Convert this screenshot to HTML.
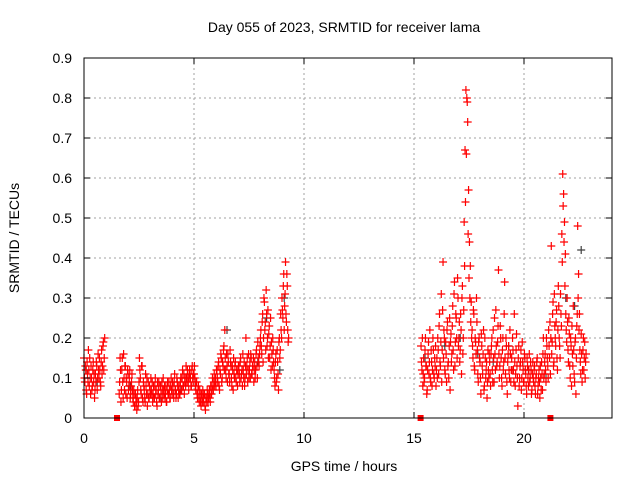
<!DOCTYPE html>
<html><head><meta charset="utf-8"><style>
html,body{margin:0;padding:0;background:#fff;}
svg{display:block;font-family:"Liberation Sans",sans-serif;}
</style></head><body>
<svg id="chart" width="640" height="480" viewBox="0 0 640 480">
<rect width="640" height="480" fill="#fff"/>
<text x="344" y="32" font-size="14" text-anchor="middle" fill="#000">Day 055 of 2023, SRMTID for receiver lama</text>
<text x="344" y="471" font-size="14" text-anchor="middle" fill="#000">GPS time / hours</text>
<text transform="translate(19,238) rotate(-90)" font-size="14" text-anchor="middle" fill="#000">SRMTID / TECUs</text>
<g id="grid"></g>
<g id="gray"></g>
<g id="red"></g>
<g id="frame"></g>
</svg>
<script>
const xTicks=[0,5,10,15,20];
const yTicks=[0,0.1,0.2,0.3,0.4,0.5,0.6,0.7,0.8,0.9];
const yTickLabels=["0","0.1","0.2","0.3","0.4","0.5","0.6","0.7","0.8","0.9"];
const seg1Start=0, seg2Start=15.32, stepHours=0.04, offsetB=0.02;
const seg1Values=[0.15,0.09,0.12,0.06,0.11,0.17,0.08,0.1,0.13,0.07,0.12,0.09,0.05,0.11,0.14,0.07,0.16,0.1,0.12,0.08,0.17,0.13,0.19,0.15,
null,null,null,null,null,null,null,null,null,null,null,null,null,null,null,null,
0.06,0.15,0.04,0.12,0.09,0.16,0.07,0.13,0.1,0.05,0.11,0.08,0.12,0.06,0.09,0.07,
0.04,0.06,0.03,0.05,0.02,0.07,0.04,0.15,0.1,0.06,0.13,0.04,0.08,0.05,0.11,0.06,0.03,0.09,0.05,0.07,
0.1,0.06,0.04,0.08,0.05,0.1,0.07,0.03,0.06,0.09,0.05,0.08,0.04,0.07,0.1,0.06,0.05,0.08,0.04,0.09,0.06,0.07,0.05,0.1,0.06,
0.08,0.05,0.11,0.07,0.06,0.09,0.05,0.08,0.06,0.1,0.07,0.12,0.08,0.06,0.1,0.13,0.09,0.11,0.07,0.12,0.1,0.08,0.13,0.09,0.11,
0.1,0.07,0.09,0.05,0.08,0.04,0.06,0.03,0.05,0.07,0.04,0.06,0.02,0.05,0.07,0.04,0.06,0.05,0.08,0.06,0.1,0.07,0.11,0.09,0.08,
0.12,0.09,0.14,0.07,0.11,0.15,0.1,0.13,0.18,0.22,0.12,0.16,0.09,0.14,0.11,0.17,0.13,0.08,0.12,0.15,0.1,0.14,0.09,0.12,0.11,
0.13,0.09,0.15,0.11,0.08,0.12,0.14,0.1,0.2,0.13,0.09,0.16,0.12,0.1,0.15,0.11,0.13,0.09,0.14,0.12,0.17,0.1,0.15,0.13,0.18,
0.22,0.16,0.26,0.2,0.29,0.24,0.32,0.18,0.27,0.21,0.15,0.25,0.19,0.13,0.17,
0.12,0.08,0.16,0.1,0.14,0.07,0.2,0.17,0.22,0.3,0.25,0.36,0.28,0.39,0.24,0.33,0.19];
const seg1ValuesB=[0.1,0.13,0.07,0.14,0.09,0.12,0.15,0.06,0.1,0.08,0.14,0.11,0.07,0.09,0.13,0.1,0.12,0.15,0.09,0.14,0.11,0.18,0.12,0.2,
null,null,null,null,null,null,null,null,null,null,null,null,null,null,null,null,
0.09,0.12,0.07,0.15,0.05,0.1,0.13,0.06,0.09,0.12,0.07,0.1,0.05,0.08,0.11,0.05,
0.07,0.03,0.06,0.04,0.05,0.03,0.09,0.12,0.07,0.13,0.05,0.09,0.07,0.04,0.08,0.1,0.06,0.05,0.08,0.06,
0.07,0.09,0.06,0.05,0.08,0.06,0.04,0.09,0.07,0.05,0.08,0.06,0.09,0.05,0.07,0.08,0.06,0.04,0.07,0.06,0.09,0.05,0.08,0.07,0.09,
0.06,0.09,0.07,0.05,0.1,0.08,0.07,0.06,0.09,0.07,0.1,0.08,0.11,0.09,0.08,0.1,0.12,0.09,0.1,0.11,0.08,0.12,0.1,0.11,0.13,
0.08,0.09,0.06,0.07,0.05,0.07,0.04,0.06,0.04,0.05,0.06,0.03,0.05,0.04,0.06,0.05,0.07,0.04,0.06,0.08,0.07,0.09,0.08,0.1,0.12,
0.1,0.13,0.08,0.12,0.16,0.09,0.14,0.17,0.12,0.15,0.1,0.13,0.16,0.11,0.09,0.14,0.1,0.13,0.07,0.11,0.13,0.1,0.12,0.08,0.13,
0.11,0.14,0.1,0.12,0.16,0.1,0.08,0.13,0.11,0.15,0.12,0.1,0.14,0.16,0.11,0.13,0.15,0.12,0.1,0.16,0.13,0.19,0.14,0.16,0.2,
0.18,0.24,0.14,0.3,0.22,0.17,0.26,0.2,0.15,0.23,0.18,0.12,0.16,0.2,0.14,
0.1,0.14,0.09,0.17,0.11,0.19,0.15,0.26,0.2,0.27,0.33,0.22,0.31,0.26,0.36,0.22,0.2];
const seg2Values=[0.18,0.12,0.08,0.15,0.1,0.2,0.13,0.07,0.16,0.11,0.22,0.09,0.14,0.12,0.17,0.1,0.13,0.08,
0.15,0.2,0.11,0.26,0.13,0.31,0.17,0.39,0.22,0.12,0.19,0.09,0.24,0.14,0.18,0.07,0.21,0.16,0.28,0.12,0.34,0.19,0.25,0.15,0.3,
0.2,0.14,0.26,0.11,0.33,0.2,0.49,0.67,0.82,0.8,0.74,0.57,0.44,0.38,0.29,
0.22,0.15,0.26,0.12,0.19,0.3,0.17,0.09,0.2,0.14,0.06,0.18,0.11,0.22,0.08,0.15,0.12,0.05,0.17,0.1,
0.14,0.08,0.18,0.12,0.22,0.09,0.16,0.27,0.13,0.19,0.37,0.1,0.23,0.15,0.08,0.2,0.14,0.34,0.11,0.18,0.06,0.16,0.12,0.22,0.09,
0.15,0.2,0.12,0.26,0.08,0.17,0.13,0.03,0.18,0.1,0.14,0.07,0.19,0.12,0.09,0.15,0.11,0.06,0.13,0.08,0.16,0.1,0.12,0.07,0.14,
0.09,0.13,0.06,0.11,0.15,0.08,0.12,0.05,0.1,0.14,0.07,0.2,0.11,0.16,0.09,0.18,0.13,0.22,0.15,0.11,0.43,0.19,0.29,0.14,0.23,
0.18,0.27,0.12,0.33,0.2,0.15,0.26,0.46,0.61,0.56,0.49,0.41,0.22,0.3,0.17,0.25,0.13,0.2,0.08,0.16,0.28,0.11,0.19,0.06,0.23,
0.48,0.36,0.26,0.14,0.21,0.09,0.17,0.12,0.19,0.14];
const seg2ValuesB=[0.14,0.2,0.11,0.09,0.17,0.13,0.06,0.12,0.19,0.14,0.1,0.17,0.08,0.2,0.11,0.15,0.18,0.12,
0.1,0.17,0.23,0.14,0.19,0.09,0.27,0.15,0.2,0.11,0.16,0.22,0.13,0.1,0.25,0.19,0.14,0.23,0.17,0.31,0.13,0.26,0.2,0.35,0.18,
0.24,0.17,0.22,0.3,0.16,0.27,0.38,0.54,0.66,0.79,0.46,0.35,0.3,0.24,0.2,
0.18,0.27,0.13,0.2,0.16,0.24,0.11,0.19,0.15,0.1,0.21,0.13,0.16,0.07,0.2,0.1,0.14,0.09,0.12,0.16,
0.11,0.16,0.2,0.09,0.15,0.25,0.12,0.18,0.14,0.23,0.16,0.13,0.2,0.1,0.17,0.12,0.26,0.15,0.2,0.09,0.14,0.18,0.1,0.16,0.12,
0.12,0.17,0.09,0.14,0.11,0.21,0.1,0.15,0.08,0.13,0.17,0.1,0.14,0.09,0.16,0.12,0.08,0.15,0.1,0.12,0.09,0.14,0.06,0.11,0.1,
0.12,0.08,0.1,0.14,0.06,0.1,0.09,0.13,0.07,0.11,0.16,0.1,0.14,0.12,0.2,0.15,0.1,0.18,0.24,0.2,0.16,0.26,0.13,0.31,0.2,
0.24,0.15,0.22,0.28,0.18,0.31,0.23,0.39,0.53,0.44,0.33,0.26,0.19,0.24,0.14,0.21,0.1,0.18,0.23,0.13,0.17,0.09,0.2,0.15,0.26,
0.3,0.22,0.17,0.11,0.16,0.12,0.2,0.15,0.1,0.16];
const grayTimes=[0.1,0.6,2.1,3.5,4.4,6.5,7.9,8.3,8.9,9.1,15.5,16.4,17.1,17.9,18.6,19.3,20.2,21.0,21.9,22.3,22.6];
const grayValues=[0.12,0.09,0.08,0.05,0.07,0.22,0.14,0.25,0.12,0.3,0.15,0.18,0.2,0.16,0.14,0.18,0.12,0.1,0.3,0.28,0.42];
const markerTimes=[1.5,15.3,21.2];
const markerValues=[0,0,0];

const L=84,R=612,T=58,B=418,X0=0,X1=24,Y0=0,Y1=0.9;
const xs=t=>L+(t-X0)/(X1-X0)*(R-L);
const ys=v=>B-(v-Y0)/(Y1-Y0)*(B-T);
const NS="http://www.w3.org/2000/svg";
function mk(tag,attrs,parent){const e=document.createElementNS(NS,tag);for(const k in attrs)e.setAttribute(k,attrs[k]);parent.appendChild(e);return e;}
const grid=document.getElementById('grid'),frame=document.getElementById('frame');
xTicks.forEach(t=>{
  const x=xs(t);
  if(t>X0){const g=mk('line',{x1:x,y1:T,x2:x,y2:B,stroke:'#a0a0a0','stroke-dasharray':'2,3'},grid);
  
  }
  mk('line',{x1:x,y1:B,x2:x,y2:B-6,stroke:'#000'},frame);
  mk('line',{x1:x,y1:T,x2:x,y2:T+6,stroke:'#000'},frame);
  const lb=mk('text',{x:x,y:B+25,'font-size':14,'text-anchor':'middle'},frame);lb.textContent=t;
  
  
});
yTicks.forEach((v,i)=>{
  const y=ys(v);
  if(v>Y0&&v<Y1){const g=mk('line',{x1:L,y1:y,x2:R,y2:y,stroke:'#a0a0a0','stroke-dasharray':'2,3'},grid);
  
  }
  mk('line',{x1:L,y1:y,x2:L+6,y2:y,stroke:'#000'},frame);
  mk('line',{x1:R,y1:y,x2:R-6,y2:y,stroke:'#000'},frame);
  const lb=mk('text',{x:L-12,y:y+5,'font-size':14,'text-anchor':'end'},frame);lb.textContent=yTickLabels[i];
  
  
});
const fr=mk('rect',{x:L,y:T,width:R-L,height:B-T,fill:'none',stroke:'#000'},frame);


function plus(t,v,col,parent){
  const x=xs(t),y=ys(v);
  const p=mk('path',{d:`M${x-4},${y}H${x+4}M${x},${y-4}V${y+4}`,stroke:col,'stroke-width':1.2,fill:'none'},parent);
  
  
}
const gray=document.getElementById('gray'),red=document.getElementById('red');
grayTimes.forEach((t,i)=>plus(t,grayValues[i],'#404040',gray));
seg1Values.forEach((v,i)=>{if(v!==null)plus(seg1Start+i*stepHours,v,'#ff0000',red);});
seg1ValuesB.forEach((v,i)=>{if(v!==null)plus(seg1Start+offsetB+i*stepHours,v,'#ff0000',red);});
seg2Values.forEach((v,i)=>{if(v!==null)plus(seg2Start+i*stepHours,v,'#ff0000',red);});
seg2ValuesB.forEach((v,i)=>{if(v!==null)plus(seg2Start+offsetB+i*stepHours,v,'#ff0000',red);});
markerTimes.forEach((t,i)=>{
  const s=mk('rect',{x:xs(t)-3,y:ys(markerValues[i])-3,width:6,height:6,fill:'#ff0000'},red);
  
  
});
</script>
</body></html>
